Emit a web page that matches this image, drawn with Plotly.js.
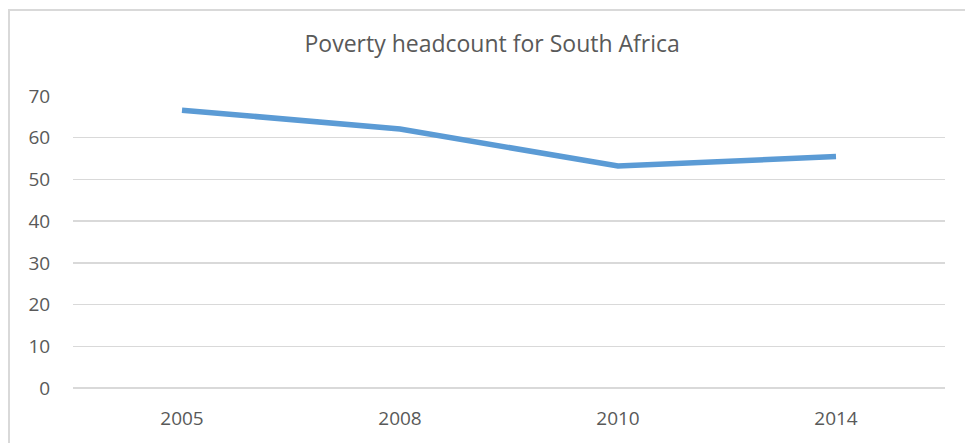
<!DOCTYPE html>
<html>
<head>
<meta charset="utf-8">
<script src="https://cdn.plot.ly/plotly-3.0.1.min.js"></script>
<style>
html,body{margin:0;padding:0;background:#fff;}
#wrap{position:relative;width:965px;height:443px;overflow:hidden;}
#chart{width:965px;height:443px;}
#frame{position:absolute;left:8px;top:9px;width:1000px;height:500px;border-left:2px solid #d9d9d9;border-top:2px solid #d9d9d9;pointer-events:none;}
</style>
</head>
<body>
<div id="wrap"><div id="chart"></div><div id="frame"></div></div>
<script>
const years = ["2005", "2008", "2010", "2014"];
const headcount = [66.6, 62.1, 53.2, 55.5];
const yTicks = [0, 10, 20, 30, 40, 50, 60, 70];

const trace = {
  x: years,
  y: headcount,
  type: "scatter",
  mode: "lines",
  line: {color: "#5b9bd5", width: 5.5, shape: "linear"},
  hoverinfo: "x+y"
};

const layout = {
  width: 965,
  height: 443,
  margin: {l: 73, r: 20, t: 95.5, b: 54.7},
  paper_bgcolor: "#ffffff",
  plot_bgcolor: "#ffffff",
  showlegend: false,
  font: {family: "Open Sans, Liberation Sans, sans-serif", color: "#595959", size: 19},
  title: {
    text: "Poverty headcount for South Africa",
    font: {family: "Open Sans, sans-serif", size: 23, color: "#595959"},
    x: 0.51, xanchor: "center",
    y: 0.9, yanchor: "middle",
    xref: "container", yref: "container"
  },
  xaxis: {
    type: "category",
    range: [-0.5, 3.5],
    showgrid: false,
    zeroline: false,
    showline: false,
    ticks: "outside",
    ticklen: 13,
    tickcolor: "rgba(0,0,0,0)",
    tickfont: {size: 19, color: "#595959"},
    fixedrange: true
  },
  yaxis: {
    range: [0, 70],
    tickvals: yTicks,
    ticktext: yTicks.map(String),
    showgrid: true,
    gridcolor: "#d9d9d9",
    gridwidth: 1.5,
    zeroline: true,
    zerolinecolor: "#d9d9d9",
    zerolinewidth: 1.5,
    showline: false,
    ticks: "outside",
    ticklen: 18,
    tickcolor: "rgba(0,0,0,0)",
    tickfont: {size: 19, color: "#595959"},
    fixedrange: true
  }
};

Plotly.newPlot("chart", [trace], layout, {displayModeBar: false, staticPlot: true});
</script>
</body>
</html>
